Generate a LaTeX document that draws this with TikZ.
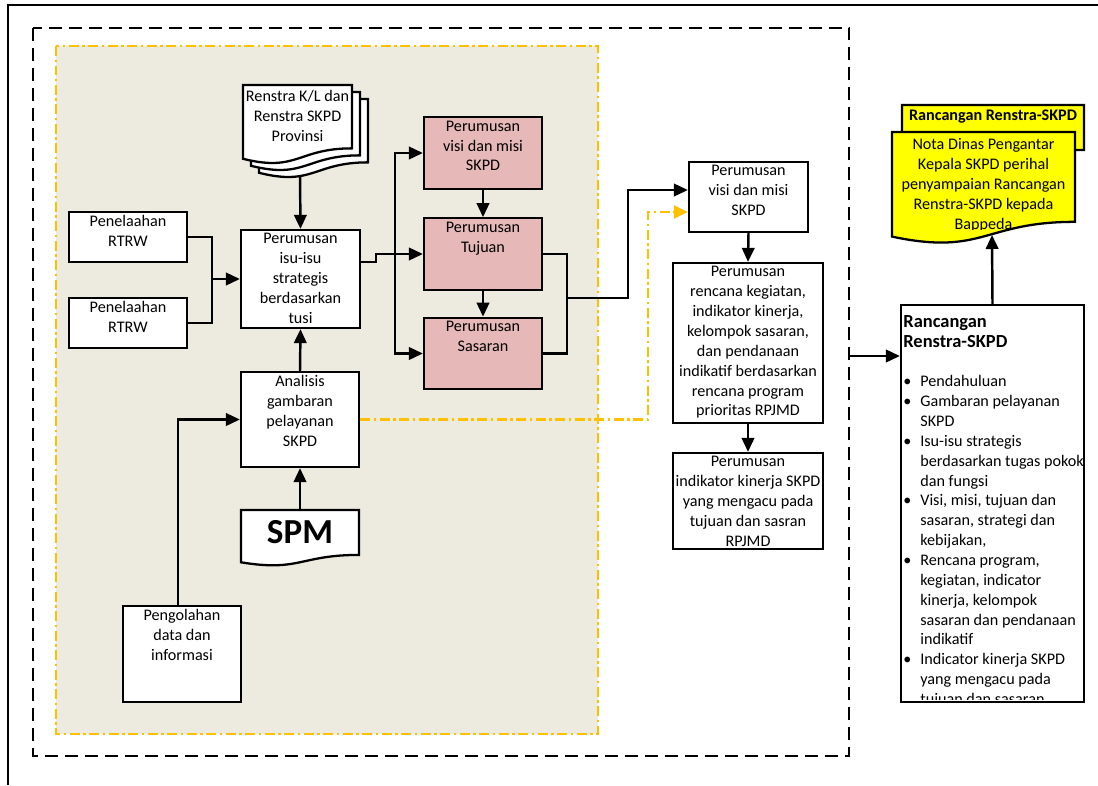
\documentclass[tikz,border=0pt]{standalone}
\usepackage{fontspec}
\setmainfont{Carlito}
\usetikzlibrary{arrows.meta}
\definecolor{pinkbox}{RGB}{230,184,183}
\definecolor{beigebg}{RGB}{237,234,224}
\definecolor{orangeln}{RGB}{255,192,0}
\definecolor{yellowdoc}{RGB}{255,255,0}
\newcommand\docshape[5][]{%
  \path[#1] ({#2},{#3}) -- ({#4},{#3}) -- ({#4},{#3+0.802*#5})
    .. controls ({(#2+#4)/2},{#3+0.802*#5}) and ({(#2+#4)/2},{#3+1.107*#5})
    .. ({#2},{#3+0.934*#5}) -- cycle;}

\begin{document}
\begin{tikzpicture}[x=0.02cm, y=-0.02cm,
    box/.style={draw, line width=1.3pt, fill=white, minimum width=2.36cm},
    lbl/.style={align=center, inner sep=2.5pt, font=\fontsize{9.2}{11.3}\selectfont},
    txt/.style={label={[lbl, anchor=north]north:{#1}}},
    arr/.style={line width=1.4pt, -{Triangle[length=0.28cm, width=0.25cm]}},
    link/.style={line width=1.4pt},
    doc/.style={draw, line width=1.3pt},
    orangedash/.style={orangeln, line width=1.4pt, dash pattern=on 0.2cm off 0.07cm on 0.05cm off 0.07cm}]
  \useasboundingbox (0,0) rectangle (1098,785);

  % frames
  \draw[line width=1.2pt] (8,785) -- (8,5) -- (1098,5);
  \draw[line width=1.4pt, dash pattern=on 0.26cm off 0.14cm] (33,28) rectangle (849,756);
  \draw[orangedash, fill=beigebg] (56,46) rectangle (598,734);

  % documents
  \foreach \dx/\dy in {16/14, 8/7, 0/0}
    \docshape[doc, fill=white]{243+\dx}{85+\dy}{352+\dx}{79}
  \node[lbl, anchor=north] (renstra) at (297.5,86) {Renstra K/L dan\\Renstra SKPD\\Provinsi};
  \coordinate (renstrabot) at (300,175);

  \docshape[doc, fill=white]{241}{510}{359}{56}
  \node[font=\bfseries\fontsize{20}{24}\selectfont, inner sep=0pt] (spm) at (300,532) {SPM};
  \coordinate (spmtop) at (300,510);

  % left column
  \foreach \n/\y in {rtrwA/237, rtrwB/323}
    \node[box, minimum height=1cm, txt={Penelaahan\\RTRW}] (\n) at (128,\y) {};
  \node[box, minimum width=2.38cm, minimum height=1.96cm, txt={Perumusan\\isu-isu\\strategis\\berdasarkan\\tusi}] (isu) at (300.5,279) {};
  \node[box, minimum height=1.9cm, txt={Analisis\\gambaran\\pelayanan\\SKPD}] (analisis) at (300,419.5) {};
  \node[box, minimum height=1.92cm, txt={Pengolahan\\data dan\\informasi}] (olah) at (182,654) {};

  % pink boxes
  \foreach \n/\y/\isi in {visiA/153/{Perumusan\\visi dan misi\\SKPD}, tujuan/254/{Perumusan\\Tujuan}, sasaran/353.5/{Perumusan\\Sasaran}}
    \node[box, fill=pinkbox, minimum height=1.43cm, txt=\isi] (\n) at (483,\y) {};

  % right column
  \node[box, minimum width=2.38cm, minimum height=1.4cm, txt={Perumusan\\visi dan misi\\SKPD}] (visiB) at (748.5,197) {};
  \node[box, minimum width=3cm, minimum height=3.2cm, txt={Perumusan\\rencana kegiatan,\\indikator kinerja,\\kelompok sasaran,\\dan pendanaan\\indikatif berdasarkan\\rencana program\\prioritas RPJMD}] (rencana) at (748,343) {};
  \node[box, minimum width=3cm, minimum height=1.92cm, txt={Perumusan\\indikator kinerja SKPD\\yang mengacu pada\\tujuan dan sasran\\RPJMD}] (indikator) at (748,501) {};

  % output
  \node[box, minimum width=3.66cm, minimum height=7.94cm] (rancangan) at (992.5,503.5) {};
  \begin{scope}
    \clip (901,305) rectangle (1084,699);
    \node[lbl, anchor=north west, inner sep=0pt, align=left] (isiran) at (903,313) {%
      \begin{tabular}{@{}p{0.34cm}@{}l@{}}
        \multicolumn{2}{@{}l@{}}{\fontsize{10.5}{11.3}\selectfont\bfseries Rancangan}\\
        \multicolumn{2}{@{}l@{}}{\fontsize{10.5}{11.3}\selectfont\bfseries Renstra-SKPD}\\
        & \\
        \textbullet & Pendahuluan\\
        \textbullet & Gambaran pelayanan\\
        & SKPD\\
        \textbullet & Isu-isu strategis\\
        & berdasarkan tugas pokok\\
        & dan fungsi\\
        \textbullet & Visi, misi, tujuan dan\\
        & sasaran, strategi dan\\
        & kebijakan,\\
        \textbullet & Rencana program,\\
        & kegiatan, indicator\\
        & kinerja, kelompok\\
        & sasaran dan pendanaan\\
        & indikatif\\
        \textbullet & Indicator kinerja SKPD\\
        & yang mengacu pada\\
        & tujuan dan sasaran
      \end{tabular}};
  \end{scope}

  \docshape[doc, fill=yellowdoc]{902}{105}{1084}{56}
  \node[lbl, font=\bfseries\fontsize{9.2}{11.3}\selectfont] (notajudul) at (993,117) {Rancangan Renstra-SKPD};
  \docshape[doc, fill=yellowdoc]{892}{132}{1075}{112}
  \begin{scope}
    \clip (892,132) rectangle (1075,229);
    \node[lbl, anchor=north] (nota) at (983.5,134) {Nota Dinas Pengantar\\Kepala SKPD perihal\\penyampaian Rancangan\\Renstra-SKPD kepada\\Bappeda};
  \end{scope}
  \coordinate (notabot) at (992,235);

  % connectors
  \coordinate (jl) at (212,279);
  \draw[link] (rtrwA.east) -| (jl);
  \draw[link] (rtrwB.east) -| (jl);
  \draw[arr] (jl) -- (isu.west);
  \draw[arr] (renstrabot) -- (isu.north);
  \draw[arr] (analisis.north) -- (isu.south);
  \draw[arr] (spmtop) -- (analisis.south);
  \draw[arr] ([xshift=-0.08cm]olah.north) |- (analisis.west);

  \coordinate (trunk) at (395,254);
  \draw[link] ([yshift=0.34cm]isu.east) -- ++(15,0) |- (trunk);
  \draw[arr] (trunk) |- (visiA.west);
  \draw[arr] (trunk) -- (tujuan.west);
  \draw[arr] (trunk) |- (sasaran.west);
  \draw[arr] (visiA.south) -- (tujuan.north);
  \draw[arr] (tujuan.south) -- (sasaran.north);

  \coordinate (jr) at (567,298);
  \draw[link] (tujuan.east) -| (jr);
  \draw[link] (sasaran.east) -| (jr);
  \draw[arr] (jr) -- ++(61,0) |- ([yshift=0.14cm]visiB.west);
  \draw[orangedash, -{Triangle[length=0.28cm, width=0.26cm]}] (analisis.east) -- ++(288,0) |- ([yshift=-0.3cm]visiB.west);

  \draw[arr] (visiB.south) -- (rencana.north);
  \draw[arr] (rencana.south) -- (indikator.north);

  \coordinate (dashR) at (849,356);
  \draw[arr] (dashR) -- (dashR -| rancangan.west);
  \draw[arr] (rancangan.north) -- (notabot);
\end{tikzpicture}
\end{document}
